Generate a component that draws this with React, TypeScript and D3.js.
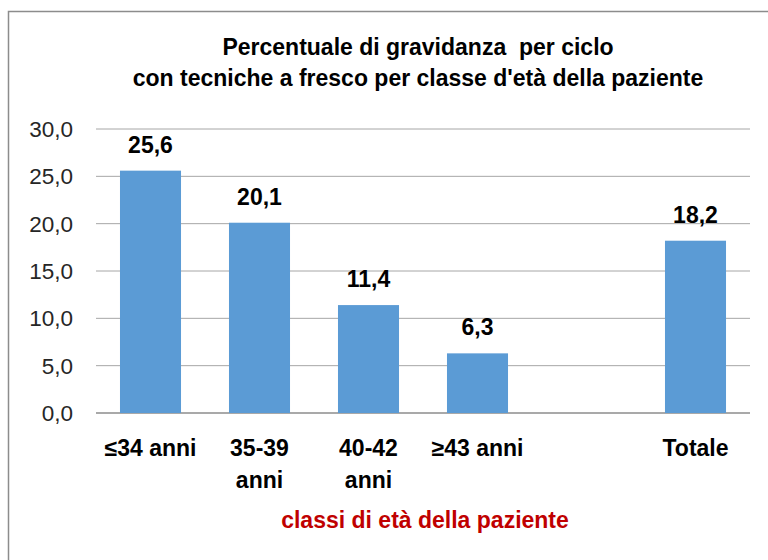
import React from 'react';
import * as d3 from 'd3';

// data
const categories = ['≤34 anni', '35-39 anni', '40-42 anni', '≥43 anni', '', 'Totale'];
const values: (number | null)[] = [25.6, 20.1, 11.4, 6.3, null, 18.2];
const tickValues = [0, 5, 10, 15, 20, 25, 30];
const titleLines = ['Percentuale di gravidanza  per ciclo', "con tecniche a fresco per classe d'età della paziente"];
const xTitle = 'classi di età della paziente';

const W = 768;
const H = 560;
const FONT = "'Liberation Sans', Arial, sans-serif";

const fmt = (v: number) => v.toFixed(1).replace('.', ',');

// split label like "35-39 anni" into two lines, keep the short ones on one
const labelLines = (s: string) => (s.startsWith('≤') || s.startsWith('≥') || !s.includes(' ') ? [s] : s.split(' '));

export default function App() {
  const left = 96;
  const right = 750;
  const top = 129;
  const bottom = 413;

  const x = d3.scaleBand<string>().domain(categories.map((c, i) => i + '')).range([left, right]).paddingInner(0.44).paddingOuter(0.22);
  const y = d3.scaleLinear().domain([0, 30]).range([bottom, top]);

  return (
    <svg width={W} height={H} style={{ position: 'absolute', left: 0, top: 0, background: '#fff' }} fontFamily={FONT}>
      <rect x={8.5} y={11.5} width={W + 10} height={H + 10} fill="#fff" stroke="#8c8c8c" strokeWidth={1.5} />

      {/* title */}
      {titleLines.map((t, i) => (
        <text key={i} x={418} y={55 + i * 31} textAnchor="middle" fontSize={23} fontWeight="bold" fill="#000" style={{ whiteSpace: 'pre' }}>
          {t}
        </text>
      ))}

      {/* gridlines + y ticks */}
      {tickValues.map((t) => (
        <g key={t}>
          <line x1={left} x2={right} y1={y(t)} y2={y(t)} stroke={t === 0 ? '#8c8c8c' : '#a6a6a6'} strokeWidth={t === 0 ? 1.5 : 1} />
          <text x={73} y={y(t)} dy="0.36em" textAnchor="end" fontSize={22.5} fill="#262626">
            {fmt(t)}
          </text>
        </g>
      ))}

      {/* bars */}
      {values.map((v, i) =>
        v == null ? null : (
          <g key={i}>
            <rect x={x(i + '')!} y={y(v)} width={x.bandwidth()} height={bottom - y(v)} fill="#5b9bd5" />
            <text x={x(i + '')! + x.bandwidth() / 2} y={y(v) - 18} textAnchor="middle" fontSize={23} fontWeight="bold" fill="#000">
              {fmt(v)}
            </text>
          </g>
        )
      )}

      {/* category labels */}
      {categories.map((c, i) =>
        labelLines(c).map((ln, j) => (
          <text key={i + '-' + j} x={x(i + '')! + x.bandwidth() / 2} y={456 + j * 32} textAnchor="middle" fontSize={23} fontWeight="bold" fill="#000">
            {ln}
          </text>
        ))
      )}

      <text x={425} y={528} textAnchor="middle" fontSize={23} fontWeight="bold" fill="#c00000">
        {xTitle}
      </text>
    </svg>
  );
}
